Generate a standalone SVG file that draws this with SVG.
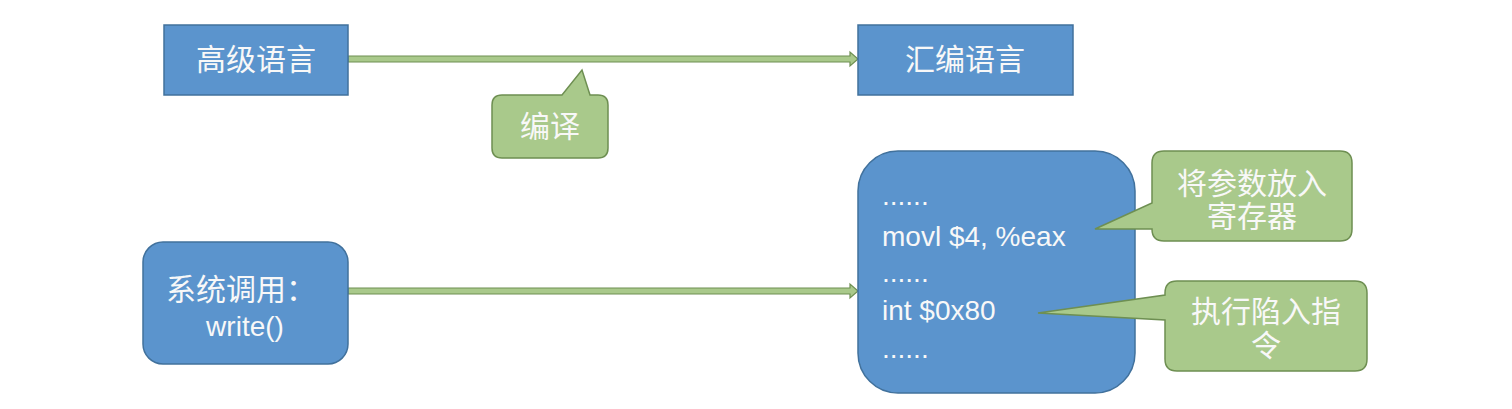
<svg xmlns="http://www.w3.org/2000/svg" width="1512" height="409" viewBox="0 0 1512 409">
<style>
.box{fill:#5b94cd;stroke:#41719c;stroke-width:1.5}
.call{fill:#a9c98b;stroke:#6e8f52;stroke-width:1.5}
.arr{fill:#a9c98b;stroke:#6e8f52;stroke-width:1.2}
.cjk{font-family:"Liberation Sans","Noto Sans CJK SC",sans-serif;font-size:30px;fill:#f8f8f8}
.lat{font-family:"Liberation Sans","Noto Sans CJK SC",sans-serif;font-size:28px;fill:#f8f8f8}
</style>
<rect width="1512" height="409" fill="#ffffff"/>
<g id="connectors">
<polygon class="arr" points="348,56 850,56 850,52 858,59 850,66 850,62 348,62"/>
<polygon class="arr" points="348,288 850,288 850,284 858,291 850,298 850,294 348,294"/>
</g>
<g id="high-level">
<rect class="box" x="164" y="25" width="184" height="70"/>
<text class="cjk" x="256" y="70" text-anchor="middle">高级语言</text>
</g>
<g id="assembly">
<rect class="box" x="858" y="25" width="215" height="70"/>
<text class="cjk" x="965" y="70" text-anchor="middle">汇编语言</text>
</g>
<g id="compile">
<path class="call" d="M502 95 L562 95 L582 70 L590 95 L598 95 Q608 95 608 105 L608 148 Q608 158 598 158 L502 158 Q492 158 492 148 L492 105 Q492 95 502 95 Z"/>
<text class="cjk" x="550" y="137" text-anchor="middle">编译</text>
</g>
<g id="syscall">
<rect class="box" x="143" y="242" width="205" height="122" rx="20"/>
<text class="cjk" x="166" y="300">系统调用：</text>
<text class="lat" x="245" y="336" text-anchor="middle">write()</text>
</g>
<g id="asm-code">
<rect class="box" x="858" y="151" width="277" height="242" rx="40"/>
<text class="lat" x="882" y="205">......</text>
<text class="lat" x="882" y="246">movl $4, %eax</text>
<text class="lat" x="882" y="282">......</text>
<text class="lat" x="882" y="320">int $0x80</text>
<text class="lat" x="882" y="358">......</text>
</g>
<g id="note-register">
<path class="call" d="M1164 151 L1340 151 Q1352 151 1352 163 L1352 229 Q1352 241 1340 241 L1164 241 Q1152 241 1152 229 L1095 229 L1152 203 L1152 163 Q1152 151 1164 151 Z"/>
<text class="cjk" x="1252" y="194" text-anchor="middle">将参数放入</text>
<text class="cjk" x="1252" y="227" text-anchor="middle">寄存器</text>
</g>
<g id="note-trap">
<path class="call" d="M1177 281 L1355 281 Q1367 281 1367 293 L1367 359 Q1367 371 1355 371 L1177 371 Q1165 371 1165 359 L1165 320 L1038 313 L1165 295 L1165 293 Q1165 281 1177 281 Z"/>
<text class="cjk" x="1266" y="322" text-anchor="middle">执行陷入指</text>
<text class="cjk" x="1266" y="356" text-anchor="middle">令</text>
</g>
</svg>
